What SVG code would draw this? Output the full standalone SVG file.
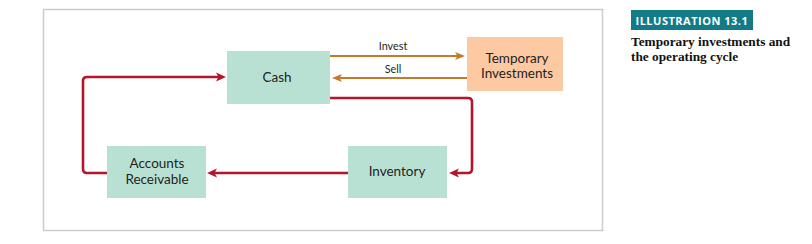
<svg xmlns="http://www.w3.org/2000/svg" width="812" height="244" viewBox="0 0 812 244">
  <style>
    .frame{fill:#fff;stroke:#cccccc;stroke-width:1.5}
    .box{fill:#b9e1d3}
    .box2{fill:#fcc9a3}
    .lbl{font-family:Lato,"Open Sans","Liberation Sans",sans-serif;font-size:13.5px;fill:#231f20;text-anchor:middle}
    .small{font-family:Lato,"Open Sans","Liberation Sans",sans-serif;font-size:10.8px;fill:#231f20;text-anchor:middle}
    .red{fill:none;stroke:#b5152b;stroke-width:2.6;marker-end:url(#ar)}
    .org{fill:none;stroke:#c47a26;stroke-width:2.2;marker-end:url(#ao)}
    .ban{font-family:"Open Sans","Liberation Sans",sans-serif;font-weight:bold;font-size:11px;fill:#ffffff;letter-spacing:0.5px}
    .ttl{font-family:"Liberation Serif","Times New Roman",serif;font-weight:bold;font-size:13.3px;fill:#111}
  </style>
  <defs>
    <marker id="ar" markerUnits="userSpaceOnUse" markerWidth="12" markerHeight="10" refX="6" refY="5" orient="auto">
      <path d="M0,0.5 L10,5 L0,9.5 L2.5,5 z" fill="#b5152b"/>
    </marker>
    <marker id="ao" markerUnits="userSpaceOnUse" markerWidth="12" markerHeight="10" refX="6" refY="5" orient="auto">
      <path d="M0,1 L10,5 L0,9 L2.5,5 z" fill="#c47a26"/>
    </marker>
  </defs>
  <rect class="frame" x="43.5" y="9.5" width="559" height="221"/>

  <g id="connectors">
    <path class="org" d="M330,56 H461"/>
    <path class="org" d="M467,78 H336"/>
    <path class="red" d="M330,98 H468 Q472,98 472,102 V169 Q472,173 468,173 H453"/>
    <path class="red" d="M348,173 H211"/>
    <path class="red" d="M107,173 H87 Q83,173 83,169 V81 Q83,77 87,77 H222"/>
    <text class="small" x="393" y="50">Invest</text>
    <text class="small" x="393" y="73">Sell</text>
  </g>

  <g id="cash">
    <rect class="box" x="227" y="51" width="103" height="53"/>
    <text class="lbl" x="277" y="82">Cash</text>
  </g>
  <g id="temporary-investments">
    <rect class="box2" x="467" y="37" width="96" height="54"/>
    <text class="lbl" x="517" y="63">Temporary</text>
    <text class="lbl" x="517" y="78">Investments</text>
  </g>
  <g id="inventory">
    <rect class="box" x="348" y="146" width="99" height="52"/>
    <text class="lbl" x="397" y="176">Inventory</text>
  </g>
  <g id="accounts-receivable">
    <rect class="box" x="107" y="146" width="99" height="52"/>
    <text class="lbl" x="157" y="168">Accounts</text>
    <text class="lbl" x="157" y="184">Receivable</text>
  </g>

  <g id="caption">
    <rect x="631" y="10" width="122" height="20" fill="#137b86"/>
    <text class="ban" x="635.5" y="24.5">ILLUSTRATION 13.1</text>
    <text class="ttl" x="631" y="46">Temporary investments and</text>
    <text class="ttl" x="631" y="61">the operating cycle</text>
  </g>
</svg>
